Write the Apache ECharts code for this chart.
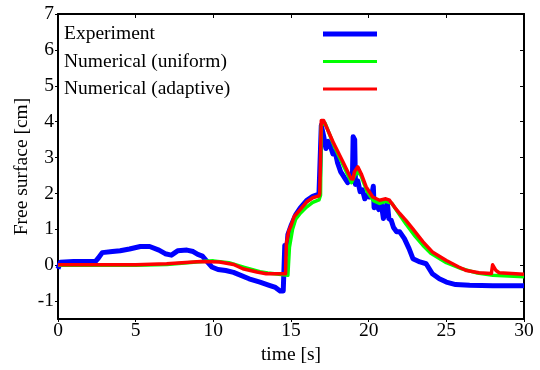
<!DOCTYPE html>
<html>
<head>
<meta charset="utf-8">
<script src="https://cdn.jsdelivr.net/npm/echarts@6/dist/echarts.min.js"></script>
<style>
  html, body { margin: 0; padding: 0; background: #fff; }
  #chart { width: 540px; height: 370px; }
</style>
</head>
<body>
<div id="chart"></div>
<script>
// series names
const seriesNames = ['Experiment', 'Numerical (uniform)', 'Numerical (adaptive)']

// experiment (blue)
const expTime = [0, 0.15, 1, 2.4, 2.6, 2.85, 3.5, 4, 4.6, 5.3, 5.9, 6.5, 6.9, 7.3, 7.7, 8.3, 8.7, 9.0, 9.3, 9.6, 9.9,
  10.3, 10.8, 11.3, 12.3, 13, 13.6, 14.0, 14.3, 14.5, 14.6, 14.7, 14.8, 15.0, 15.3, 15.6, 16, 16.4, 16.8, 16.9,
  16.95, 17.1, 17.25, 17.4, 17.55, 17.7, 17.85, 18.0, 18.2, 18.35, 18.5, 18.65, 18.8, 18.95, 19.0, 19.1, 19.15,
  19.3, 19.45, 19.6, 19.75, 19.9, 20.05, 20.2, 20.3, 20.35, 20.5, 20.65, 20.8, 20.95, 21.05, 21.2, 21.3, 21.45,
  21.6, 21.8, 22.0, 22.3, 22.6, 22.85, 23.3, 23.7, 24.1, 24.55, 25.0, 25.6, 26.5, 28, 30]
const expVal = [-0.1, 0.08, 0.1, 0.1, 0.2, 0.35, 0.38, 0.4, 0.45, 0.52, 0.52, 0.42, 0.32, 0.28, 0.4, 0.42, 0.38, 0.3, 0.25, 0.1, -0.05,
  -0.12, -0.15, -0.2, -0.38, -0.47, -0.56, -0.62, -0.72, -0.72, 0.55, 0.3, 0.85, 1.1, 1.4, 1.6, 1.8, 1.92, 1.98, 2.0,
  3.9, 3.6, 3.25, 3.45, 3.3, 3.1, 3.15, 2.85, 2.6, 2.5, 2.4, 2.3, 2.42, 2.35, 3.58, 3.5, 2.25,
  2.35, 2.05, 2.1, 1.85, 1.95, 1.9, 1.95, 2.2, 1.6, 1.7, 1.55, 1.75, 1.3, 1.5, 1.75, 1.3, 1.25,
  1.05, 0.93, 0.93, 0.74, 0.46, 0.18, 0.09, 0.04, -0.24, -0.38, -0.47, -0.54, -0.56, -0.57, -0.57]

// numerical, uniform mesh (green)
const uniTime = [0, 5, 7, 9.3, 10, 11, 12, 13, 13.5, 14.8, 14.9, 15.1, 15.3, 15.6, 16, 16.4, 16.8, 16.9, 16.95, 17.2,
  17.8, 18.4, 18.9, 19.1, 19.3, 19.5, 19.9, 20.3, 20.7, 21.1, 21.5, 22, 22.4, 23, 23.5, 24, 25, 26, 27, 28, 30]
const uniVal = [0, 0, 0.02, 0.1, 0.12, 0.07, -0.06, -0.18, -0.22, -0.28, 0.5, 1.0, 1.28, 1.45, 1.62, 1.75, 1.82, 1.95, 3.9, 3.95,
  3.3, 2.75, 2.3, 2.5, 2.6, 2.5, 2.05, 1.8, 1.72, 1.78, 1.72, 1.4, 1.15, 0.8, 0.55, 0.33, 0.07, -0.1, -0.22, -0.28, -0.32]

// numerical, adaptive mesh (red)
const adaTime = [0, 5, 7, 9.2, 10.4, 11.3, 11.9, 12.8, 13.4, 14.65, 14.7, 14.85, 15.0, 15.2, 15.55, 16, 16.4, 16.8, 16.85,
  16.95, 17.1, 17.7, 18.34, 18.87, 19.0, 19.08, 19.3, 19.52, 19.84, 20.26, 20.7, 21.1, 21.34, 21.66, 22.0, 22.4,
  22.83, 23.5, 24.1, 25, 25.8, 26.3, 27.1, 27.9, 27.98, 28.2, 28.4, 30]
const adaVal = [0.01, 0.01, 0.04, 0.1, 0.09, 0.02, -0.1, -0.19, -0.24, -0.24, 0.6, 0.95, 1.1, 1.35, 1.53, 1.76, 1.88, 1.93, 2.0,
  4.03, 4.03, 3.44, 2.88, 2.41, 2.4, 2.6, 2.74, 2.55, 2.18, 1.9, 1.81, 1.85, 1.81, 1.62, 1.44, 1.25,
  1.02, 0.65, 0.37, 0.13, -0.05, -0.15, -0.21, -0.23, 0.01, -0.15, -0.21, -0.25]

const yTicks = [-1, 0, 1, 2, 3, 4, 5, 6, 7]
const xTicks = [0, 5, 10, 15, 20, 25, 30]

const FONT = 'Liberation Serif'
const FS = 19.5
const zip = (xs, ys) => xs.map((x, i) => [x, ys[i]])

const chart = echarts.init(document.getElementById('chart'), null, { renderer: 'canvas' })

const mkLine = (name, xs, ys, color, width, z) => ({
  name: name,
  type: 'line',
  data: zip(xs, ys),
  symbol: 'none',
  showSymbol: false,
  animation: false,
  z: z,
  lineStyle: { color: color, width: width, join: 'round' },
  itemStyle: { color: color }
})

chart.setOption({
  backgroundColor: '#fff',
  animation: false,
  textStyle: { fontFamily: FONT },
  grid: { left: 58, right: 16, top: 14, bottom: 51 },
  legend: {
    orient: 'vertical',
    left: 64,
    top: 24,
    padding: 0,
    align: 'right',
    itemWidth: 54,
    itemHeight: 14,
    itemGap: 7.5,
    selectedMode: false,
    formatter: '{a|{name}}',
    itemStyle: { opacity: 0 },
    textStyle: {
      fontFamily: FONT,
      color: '#000',
      rich: { a: { width: 254, align: 'left', fontSize: FS, lineHeight: 21, fontFamily: FONT, color: '#000' } }
    },
    data: [
      { name: seriesNames[0], itemStyle: { opacity: 0 }, lineStyle: { width: 5, color: '#0000ff' } },
      { name: seriesNames[1], itemStyle: { opacity: 0 }, lineStyle: { width: 3, color: '#00ff00' } },
      { name: seriesNames[2], itemStyle: { opacity: 0 }, lineStyle: { width: 3, color: '#ff0000' } }
    ]
  },
  xAxis: [
    {
      type: 'value', position: 'bottom', min: 0, max: 30, interval: 5,
      name: 'time [s]', nameLocation: 'middle', nameGap: 26, nameMoveOverlap: false,
      nameTextStyle: { fontFamily: FONT, fontSize: FS, color: '#000' },
      axisLine: { onZero: false, lineStyle: { color: '#000', width: 2 } },
      axisTick: { inside: false, length: 3, lineStyle: { color: '#000' } },
      axisLabel: { fontFamily: FONT, fontSize: FS, color: '#000', margin: 2, customValues: xTicks },
      splitLine: { show: false }
    },
    {
      type: 'value', position: 'top', min: 0, max: 30, interval: 5,
      axisLine: { onZero: false, lineStyle: { color: '#000', width: 2 } },
      axisTick: { inside: true, length: 4, lineStyle: { color: '#000' } },
      axisLabel: { show: false },
      splitLine: { show: false }
    }
  ],
  yAxis: [
    {
      type: 'value', position: 'left', min: -1.5, max: 7,
      name: 'Free surface [cm]', nameLocation: 'middle', nameGap: 26, nameMoveOverlap: false,
      nameTextStyle: { fontFamily: FONT, fontSize: FS, color: '#000' },
      axisLine: { show: true, onZero: false, lineStyle: { color: '#000', width: 2 } },
      axisTick: { show: true, inside: false, length: 3, customValues: yTicks, lineStyle: { color: '#000' } },
      axisLabel: { fontFamily: FONT, fontSize: FS, color: '#000', margin: 4, customValues: yTicks },
      splitLine: { show: false }
    },
    {
      type: 'value', position: 'right', min: -1.5, max: 7,
      axisLine: { show: true, onZero: false, lineStyle: { color: '#000', width: 2 } },
      axisTick: { show: true, inside: true, length: 4, customValues: yTicks, lineStyle: { color: '#000' } },
      axisLabel: { show: false },
      splitLine: { show: false }
    }
  ],
  series: [
    mkLine(seriesNames[0], expTime, expVal, '#0000ff', 5, 2),
    mkLine(seriesNames[1], uniTime, uniVal, '#00ff00', 3.5, 3),
    mkLine(seriesNames[2], adaTime, adaVal, '#ff0000', 3.5, 4)
  ]
})
</script>
</body>
</html>
